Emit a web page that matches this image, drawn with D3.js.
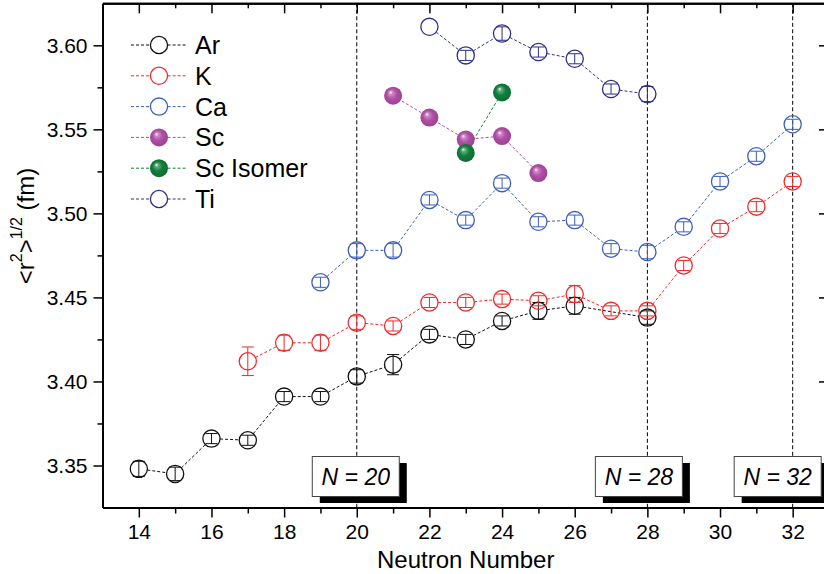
<!DOCTYPE html>
<html>
<head>
<meta charset="utf-8">
<script src="https://cdn.jsdelivr.net/npm/d3@7"></script>
<style>
body { margin: 0; background: #fff; }
svg { display: block; font-family: Arial, "Liberation Sans", sans-serif; }
</style>
</head>
<body>
<div id="container"></div>
<script>

// Charge radii (fm), with the error bars
var arN = [14, 15, 16, 17, 18, 19, 20, 21, 22, 23, 24, 25, 26, 28];
var arR = [3.348, 3.345, 3.366, 3.365, 3.391, 3.391, 3.403, 3.410, 3.428, 3.425, 3.436, 3.442, 3.445, 3.438];
var arErr = [0.0045, 0.004, 0.003, 0.003, 0.003, 0.003, 0.004, 0.006, 0.003, 0.003, 0.003, 0.005, 0.005, 0.004];

var kN = [17, 18, 19, 20, 21, 22, 23, 24, 25, 26, 27, 28, 29, 30, 31, 32];
var kR = [3.412, 3.423, 3.423, 3.435, 3.433, 3.447, 3.447, 3.449, 3.448, 3.452, 3.442, 3.442, 3.469, 3.491, 3.504, 3.519];
var kErr = [0.0085, 0.0045, 0.0045, 0.004, 0.003, 0.003, 0.003, 0.003, 0.003, 0.005, 0.003, 0.003, 0.003, 0.003, 0.003, 0.003];

var caN = [19, 20, 21, 22, 23, 24, 25, 26, 27, 28, 29, 30, 31, 32];
var caR = [3.459, 3.478, 3.478, 3.508, 3.496, 3.518, 3.495, 3.496, 3.479, 3.477, 3.492, 3.519, 3.534, 3.553];
var caErr = [0.003, 0.004, 0.004, 0.003, 0.003, 0.003, 0.003, 0.003, 0.003, 0.004, 0.003, 0.003, 0.003, 0.003];

var scN = [21, 22, 23, 24, 25];
var scR = [3.570, 3.557, 3.544, 3.546, 3.524];

var scIsoN = [23, 24];
var scIsoR = [3.536, 3.572];

var tiN = [22, 23, 24, 25, 26, 27, 28];
var tiR = [3.611, 3.594, 3.607, 3.596, 3.592, 3.574, 3.571];
var tiErr = [0, 0.003, 0.004, 0.003, 0.003, 0.003, 0.0045];

// shell closures marked on the plot
var magicN = [20, 28, 32];

var xMajor = [14, 16, 18, 20, 22, 24, 26, 28, 30, 32];
var xMinor = [15, 17, 19, 21, 23, 25, 27, 29, 31];
var yMajor = [3.35, 3.40, 3.45, 3.50, 3.55, 3.60];
var yMinor = [3.375, 3.425, 3.475, 3.525, 3.575];

var series = [
    {name: "Ar", n: arN, r: arR, err: arErr, color: "#111111", sphere: false},
    {name: "K", n: kN, r: kR, err: kErr, color: "#ee2a2a", sphere: false},
    {name: "Ca", n: caN, r: caR, err: caErr, color: "#3d5fbb", sphere: false},
    {name: "Sc", n: scN, r: scR, err: null, color: "#b24ea6", sphere: true},
    {name: "Sc Isomer", n: scIsoN, r: scIsoR, err: null, color: "#0f7f3a", sphere: true},
    {name: "Ti", n: tiN, r: tiR, err: tiErr, color: "#2c2f85", sphere: false}
];

var width = 824, height = 574;
var plotLeft = 102.5, plotRight = 829, plotTop = 3.3, plotBottom = 507.5;
var circleR = 8.6, sphereR = 9;

var svg = d3.select("#container").append("svg")
    .attr("width", width)
    .attr("height", height);

var x = d3.scaleLinear().domain([13, 33]).range([plotLeft, plotRight]);
var y = d3.scaleLinear().domain([3.325, 3.625]).range([plotBottom, plotTop]);

// sphere gradients
var defs = svg.append("defs");
series.filter(function(s) { return s.sphere; }).forEach(function(s, i) {
    var g = defs.append("radialGradient")
        .attr("id", "ball" + i)
        .attr("cx", "50%").attr("cy", "50%").attr("r", "55%")
        .attr("fx", "35%").attr("fy", "30%");
    var base = d3.color(s.color);
    g.append("stop").attr("offset", "0%").attr("stop-color", "#ffffff");
    g.append("stop").attr("offset", "18%").attr("stop-color", d3.interpolateRgb(s.color, "#fff")(0.35));
    g.append("stop").attr("offset", "50%").attr("stop-color", s.color);
    g.append("stop").attr("offset", "100%").attr("stop-color", base.darker(0.5).toString());
    s.fill = "url(#ball" + i + ")";
});

// vertical shell closure lines
svg.selectAll(".magic")
    .data(magicN)
    .enter()
    .append("line")
    .attr("x1", function(d) { return x(d); })
    .attr("x2", function(d) { return x(d); })
    .attr("y1", plotTop)
    .attr("y2", plotBottom)
    .attr("stroke", "#000")
    .attr("stroke-width", 1)
    .attr("stroke-dasharray", "4,2.5");

// axes
function styleAxis(g) {
    g.attr("font-family", null);
    g.select(".domain").attr("stroke-width", 2);
    g.selectAll(".tick line").attr("stroke-width", 1.5);
    g.selectAll(".tick text").style("font-size", "21px").attr("fill", "#000");
}

svg.append("g")
    .attr("transform", "translate(0," + plotBottom + ")")
    .call(d3.axisBottom(x).tickValues(xMinor).tickSize(6).tickSizeOuter(0).tickFormat(""))
    .call(styleAxis);
svg.append("g")
    .attr("transform", "translate(0," + plotBottom + ")")
    .call(d3.axisBottom(x).tickValues(xMajor).tickSize(10).tickPadding(7).tickSizeOuter(0).tickFormat(d3.format("d")))
    .call(styleAxis);

svg.append("g")
    .attr("transform", "translate(0," + plotTop + ")")
    .call(d3.axisBottom(x).tickValues(xMinor).tickSize(5).tickSizeOuter(0).tickFormat(""))
    .call(styleAxis);
svg.append("g")
    .attr("transform", "translate(0," + plotTop + ")")
    .call(d3.axisBottom(x).tickValues(xMajor).tickSize(10).tickSizeOuter(0).tickFormat(""))
    .call(styleAxis);

svg.append("g")
    .attr("transform", "translate(" + plotLeft + ",0)")
    .call(d3.axisLeft(y).tickValues(yMinor).tickSize(5).tickSizeOuter(0).tickFormat(""))
    .call(styleAxis);
svg.append("g")
    .attr("transform", "translate(" + plotLeft + ",0)")
    .call(d3.axisLeft(y).tickValues(yMajor).tickSize(9).tickPadding(6).tickSizeOuter(0).tickFormat(d3.format(".2f")))
    .call(styleAxis);

svg.append("g")
    .attr("transform", "translate(" + plotRight + ",0)")
    .call(d3.axisLeft(y).tickValues(yMinor).tickSize(5).tickSizeOuter(0).tickFormat(""))
    .call(styleAxis);
svg.append("g")
    .attr("transform", "translate(" + plotRight + ",0)")
    .call(d3.axisLeft(y).tickValues(yMajor).tickSize(10).tickSizeOuter(0).tickFormat(""))
    .call(styleAxis);

// axis titles
svg.append("text")
    .attr("x", (plotLeft + plotRight) / 2)
    .attr("y", 568)
    .attr("text-anchor", "middle")
    .style("font-size", "24px")
    .text("Neutron Number");

var yTitle = svg.append("text")
    .attr("transform", "translate(34,226) rotate(-90)")
    .attr("text-anchor", "middle")
    .style("font-size", "24px");
yTitle.append("tspan").text("<r");
yTitle.append("tspan").attr("dy", -12).style("font-size", "16px").text("2");
yTitle.append("tspan").attr("dy", 12).text(">");
yTitle.append("tspan").attr("dy", -12).style("font-size", "16px").text("1/2");
yTitle.append("tspan").attr("dy", 12).text(" (fm)");

// connecting dashed lines, stopping at the open symbols
series.forEach(function(s) {
    var gap = s.sphere ? 0 : circleR;
    var segs = [];
    for (var i = 0; i < s.n.length - 1; i++) {
        var x1 = x(s.n[i]), y1 = y(s.r[i]);
        var x2 = x(s.n[i + 1]), y2 = y(s.r[i + 1]);
        var len = Math.hypot(x2 - x1, y2 - y1);
        var ux = (x2 - x1) / len, uy = (y2 - y1) / len;
        segs.push([x1 + ux * gap, y1 + uy * gap, x2 - ux * gap, y2 - uy * gap]);
    }
    svg.append("g").selectAll("line")
        .data(segs)
        .enter()
        .append("line")
        .attr("x1", function(d) { return d[0]; })
        .attr("y1", function(d) { return d[1]; })
        .attr("x2", function(d) { return d[2]; })
        .attr("y2", function(d) { return d[3]; })
        .attr("stroke", s.color)
        .attr("stroke-width", 1)
        .attr("stroke-dasharray", "3,2");
});

// error bars and symbols
series.forEach(function(s) {
    var pts = s.n.map(function(n, i) {
        return {n: n, r: s.r[i], e: s.err ? s.err[i] : 0};
    });
    var g = svg.append("g");

    var eb = g.selectAll(".eb")
        .data(pts.filter(function(d) { return d.e > 0; }))
        .enter()
        .append("g")
        .attr("stroke", s.color)
        .attr("stroke-width", 1);
    eb.append("line")
        .attr("x1", function(d) { return x(d.n); })
        .attr("x2", function(d) { return x(d.n); })
        .attr("y1", function(d) { return y(d.r - d.e); })
        .attr("y2", function(d) { return y(d.r + d.e); });
    eb.append("line")
        .attr("x1", function(d) { return x(d.n) - 6; })
        .attr("x2", function(d) { return x(d.n) + 6; })
        .attr("y1", function(d) { return y(d.r - d.e); })
        .attr("y2", function(d) { return y(d.r - d.e); });
    eb.append("line")
        .attr("x1", function(d) { return x(d.n) - 6; })
        .attr("x2", function(d) { return x(d.n) + 6; })
        .attr("y1", function(d) { return y(d.r + d.e); })
        .attr("y2", function(d) { return y(d.r + d.e); });

    g.selectAll("circle")
        .data(pts)
        .enter()
        .append("circle")
        .attr("cx", function(d) { return x(d.n); })
        .attr("cy", function(d) { return y(d.r); })
        .attr("r", s.sphere ? sphereR : circleR)
        .attr("fill", s.sphere ? s.fill : "none")
        .attr("stroke", s.sphere ? "none" : s.color)
        .attr("stroke-width", 1.3);
});

// legend
var legend = svg.append("g");
var rows = legend.selectAll("g")
    .data(series)
    .enter()
    .append("g")
    .attr("transform", function(d, i) { return "translate(0," + (45 + i * 30.8) + ")"; });
rows.append("line")
    .attr("x1", 131).attr("x2", 159 - circleR)
    .attr("stroke", function(d) { return d.color; })
    .attr("stroke-dasharray", "3,2");
rows.append("line")
    .attr("x1", 159 + circleR).attr("x2", 187)
    .attr("stroke", function(d) { return d.color; })
    .attr("stroke-dasharray", "3,2");
rows.append("circle")
    .attr("cx", 159)
    .attr("r", function(d) { return d.sphere ? sphereR : circleR; })
    .attr("fill", function(d) { return d.sphere ? d.fill : "none"; })
    .attr("stroke", function(d) { return d.sphere ? "none" : d.color; })
    .attr("stroke-width", 1.3);
rows.append("text")
    .attr("x", 195)
    .attr("y", 9)
    .style("font-size", "25px")
    .text(function(d) { return d.name; });

// N = 20 / 28 / 32 boxes
var boxShift = [-1, -8.5, -15];
var boxes = svg.selectAll(".nbox")
    .data(magicN)
    .enter()
    .append("g")
    .attr("transform", function(d, i) { return "translate(" + (x(d) + boxShift[i] - 43.5) + ",456.5)"; });
boxes.append("rect")
    .attr("x", 7.5).attr("y", 6.5)
    .attr("width", 87).attr("height", 40)
    .attr("fill", "#000");
boxes.append("rect")
    .attr("width", 87).attr("height", 40)
    .attr("fill", "#fff")
    .attr("stroke", "#444")
    .attr("stroke-width", 1);
boxes.append("text")
    .attr("x", 43.5)
    .attr("y", 28.5)
    .attr("text-anchor", "middle")
    .style("font-size", "23px")
    .style("font-style", "italic")
    .text(function(d) { return "N = " + d; });

</script>
</body>
</html>
